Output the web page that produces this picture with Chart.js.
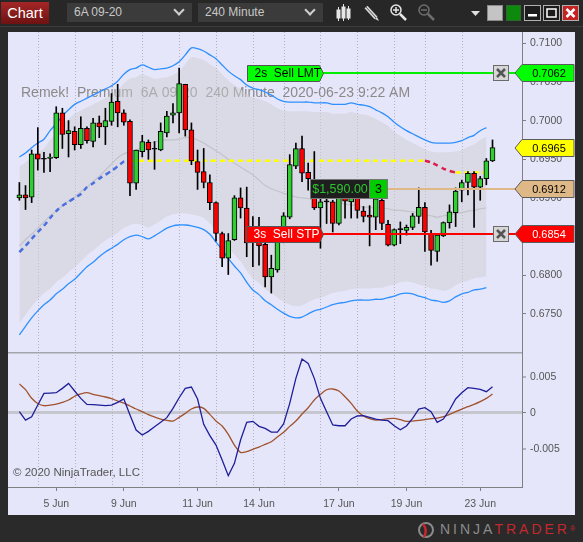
<!DOCTYPE html>
<html>
<head>
<meta charset="utf-8">
<title>Chart - 6A 09-20 240 Minute</title>
<script src="https://cdn.jsdelivr.net/npm/chart.js@4.4.1/dist/chart.umd.min.js"></script>
<style>
html,body{margin:0;padding:0;width:583px;height:542px;overflow:hidden;background:#2a2a2a;font-family:"Liberation Sans",Arial,sans-serif;}
#tb{position:absolute;left:0;top:0;width:583px;height:26px;background:#272727;}
#cbtn{position:absolute;left:1px;top:2px;width:48px;height:22px;background:linear-gradient(#a52626,#6e1212);color:#fff;font-size:14.5px;line-height:22px;text-align:center;}
.dd{position:absolute;top:3px;height:19px;width:125px;background:#3b3b3b;color:#c8c8c8;font-size:12px;line-height:19px;}
.dd span{position:absolute;left:7px;}
.chev{position:absolute;right:9px;top:3px;width:6px;height:6px;border-right:2px solid #cfcfcf;border-bottom:2px solid #cfcfcf;transform:rotate(45deg);}
#tbsvg{position:absolute;left:0;top:0;}
#line2{position:absolute;left:0;top:26px;width:583px;height:1px;background:#3d3d3d;}
#panel{position:absolute;left:8px;top:32px;width:567px;height:483px;background:#e6e6fa;}
#cTop{position:absolute;left:0;top:0;}
#cBot{position:absolute;left:0;top:320px;}
#logo{position:absolute;left:440px;top:521px;font-size:14px;letter-spacing:3px;line-height:16px;white-space:nowrap;}
#logo .a{color:#8a8a8a;} #logo .b{color:#c2282e;}
#logosvg{position:absolute;left:416px;top:520px;}
</style>
</head>
<body>
<div id="tb">
  <div id="cbtn">Chart</div>
  <div class="dd" style="left:67px;"><span>6A 09-20</span><i class="chev"></i></div>
  <div class="dd" style="left:198px;"><span>240 Minute</span><i class="chev"></i></div>
  <svg id="tbsvg" width="583" height="26">
    <g stroke="#e6e6e6" stroke-width="1">
      <line x1="338.5" y1="7" x2="338.5" y2="21"/><rect x="337" y="10" width="3" height="8" fill="#e6e6e6"/>
      <line x1="343.5" y1="4" x2="343.5" y2="21"/><rect x="342" y="7" width="3" height="11" fill="#e6e6e6"/>
      <line x1="348.5" y1="6" x2="348.5" y2="20"/><rect x="347" y="9" width="3" height="9" fill="#e6e6e6"/>
    </g>
    <g>
      <line x1="366" y1="7" x2="376" y2="18" stroke="#d8d8d8" stroke-width="4"/>
      <line x1="366" y1="7" x2="376" y2="18" stroke="#555" stroke-width="1"/>
      <polygon points="375,19 379,21 377,17" fill="#d8d8d8"/>
    </g>
    <g fill="none" stroke="#e6e6e6" stroke-width="1.5">
      <circle cx="396" cy="10" r="5"/><line x1="400" y1="14" x2="406" y2="20" stroke-width="2.5"/>
      <line x1="393" y1="10" x2="399" y2="10"/><line x1="396" y1="7" x2="396" y2="13"/>
    </g>
    <g fill="none" stroke="#6e6e6e" stroke-width="1.5">
      <circle cx="424" cy="10" r="5"/><line x1="428" y1="14" x2="434" y2="20" stroke-width="2.5"/>
      <line x1="421" y1="10" x2="427" y2="10"/>
    </g>
    <polygon points="471,11 480,11 475.5,16" fill="#e0e0e0"/>
    <rect x="487.5" y="5.5" width="15" height="15" fill="#c4c4c4" stroke="#8a8a8a"/>
    <rect x="506.5" y="5.5" width="14" height="15" fill="#0d8a0d" stroke="#2a6a2a"/>
    <rect x="524.5" y="5.5" width="16" height="15" fill="#1c1c1c" stroke="#b0b0b0"/>
    <rect x="528" y="14" width="9" height="2.5" fill="#fff"/>
    <rect x="543.5" y="5.5" width="16" height="15" fill="#1c1c1c" stroke="#b0b0b0"/>
    <rect x="547" y="9" width="9" height="8" fill="none" stroke="#fff" stroke-width="1.5"/>
    <rect x="562.5" y="5.5" width="16" height="15" fill="#c62222" stroke="#b0b0b0"/>
    <path d="M566.5 9 L574.5 17 M574.5 9 L566.5 17" stroke="#fff" stroke-width="2.5"/>
  </svg>
</div>
<div id="line2"></div>
<div id="panel">
  <canvas id="cTop" width="567" height="320"></canvas>
  <canvas id="cBot" width="567" height="163"></canvas>
</div>
<svg id="logosvg" width="22" height="20">
  <circle cx="10" cy="10" r="7" fill="none" stroke="#8a8a8a" stroke-width="2"/>
  <path d="M7 4 Q12 10 8 17" fill="none" stroke="#c2282e" stroke-width="2.5"/>
</svg>
<div id="logo"><span class="a">NINJA</span><span class="b">TRADER</span><span class="b" style="font-size:7px;letter-spacing:0;vertical-align:top;">®</span></div>

<script>
// ---------- data ----------
const open = [0.6900,0.6904,0.6901,0.6957,0.6950,0.6951,0.6952,0.7010,0.6983,0.6986,
0.6969,0.6990,0.6973,0.6997,0.6992,0.6999,0.7025,0.7010,0.6999,0.6919,
0.6960,0.6972,0.6963,0.6962,0.6984,0.7007,0.7010,0.7047,0.6988,0.6947,
0.6934,0.6920,0.6894,0.6854,0.6822,0.6846,0.6900,0.6887,0.6843,0.6846,
0.6840,0.6798,0.6807,0.6844,0.6875,0.6941,0.6964,0.6933,0.6900,0.6887,
0.6895,0.6895,0.6867,0.6900,0.6895,0.6900,0.6883,0.6878,0.6875,0.6897,
0.6866,0.6839,0.6859,0.6858,0.6862,0.6876,0.6888,0.6854,0.6831,0.6851,
0.6868,0.6881,0.6910,0.6920,0.6932,0.6914,0.6925,0.6948];
const high = [0.6920,0.6916,0.6962,0.6991,0.6959,0.6957,0.7018,0.7016,0.7000,0.6992,
0.7005,0.6992,0.7003,0.7006,0.7016,0.7035,0.7047,0.7014,0.7001,0.6962,
0.6981,0.6975,0.6973,0.6997,0.7012,0.7022,0.7068,0.7047,0.6997,0.6962,
0.6964,0.6930,0.6895,0.6856,0.6854,0.6903,0.6913,0.6914,0.6876,0.6875,
0.6846,0.6826,0.6848,0.6881,0.6956,0.6971,0.6980,0.6945,0.6960,0.6904,
0.6900,0.6897,0.6906,0.6906,0.6904,0.6902,0.6889,0.6890,0.6904,0.6902,
0.6871,0.6860,0.6869,0.6865,0.6880,0.6913,0.6894,0.6858,0.6853,0.6869,
0.6891,0.6913,0.6923,0.6934,0.6934,0.6928,0.6951,0.6975];
const low = [0.6897,0.6885,0.6894,0.6936,0.6933,0.6934,0.6951,0.6964,0.6953,0.6962,
0.6964,0.6971,0.6966,0.6978,0.6969,0.6994,0.6992,0.6994,0.6903,0.6911,
0.6953,0.6950,0.6937,0.6961,0.6979,0.6997,0.6984,0.6980,0.6943,0.6911,
0.6913,0.6885,0.6844,0.6811,0.6801,0.6845,0.6874,0.6824,0.6811,0.6813,
0.6785,0.6777,0.6804,0.6842,0.6873,0.6938,0.6921,0.6910,0.6885,0.6835,
0.6867,0.6856,0.6865,0.6874,0.6874,0.6874,0.6869,0.6838,0.6859,0.6859,
0.6838,0.6838,0.6841,0.6852,0.6859,0.6867,0.6831,0.6813,0.6818,0.6850,
0.6861,0.6863,0.6895,0.6904,0.6862,0.6897,0.6917,0.6947];
const close = [0.6904,0.6900,0.6957,0.6950,0.6950,0.6953,0.7010,0.6982,0.6987,0.6969,
0.6990,0.6974,0.6997,0.6992,0.7000,0.7024,0.7010,0.6998,0.6919,0.6962,
0.6973,0.6962,0.6963,0.6986,0.7006,0.7010,0.7048,0.6988,0.6948,0.6933,
0.6920,0.6894,0.6854,0.6822,0.6845,0.6900,0.6887,0.6842,0.6846,0.6838,
0.6798,0.6809,0.6844,0.6877,0.6943,0.6964,0.6932,0.6925,0.6887,0.6895,
0.6895,0.6867,0.6900,0.6896,0.6900,0.6884,0.6876,0.6875,0.6899,0.6867,
0.6839,0.6859,0.6859,0.6862,0.6877,0.6888,0.6856,0.6832,0.6852,0.6868,
0.6882,0.6909,0.6920,0.6932,0.6914,0.6925,0.6948,0.6965];

const upperBand = [0.6953,0.6958,0.6965,0.6971,0.6976,0.6987,0.6996,0.7006,0.7014,0.7021,
0.7025,0.7029,0.7033,0.7037,0.7041,0.7045,0.7051,0.7060,0.7066,0.7068,
0.7072,0.7069,0.7066,0.7067,0.7068,0.7071,0.7076,0.7085,0.7094,0.7093,
0.7090,0.7085,0.7080,0.7072,0.7064,0.7058,0.7053,0.7046,0.7042,0.7040,
0.7037,0.7033,0.7028,0.7025,0.7024,0.7024,0.7024,0.7024,0.7023,0.7023,
0.7023,0.7021,0.7021,0.7021,0.7023,0.7021,0.7020,0.7018,0.7014,0.7010,
0.7005,0.6998,0.6992,0.6987,0.6983,0.6979,0.6975,0.6972,0.6971,0.6971,
0.6971,0.6972,0.6974,0.6978,0.6981,0.6987,0.6991];
const lowerBand = [0.6723,0.6734,0.6745,0.6754,0.6762,0.6768,0.6776,0.6782,0.6789,0.6795,
0.6803,0.6811,0.6817,0.6824,0.6830,0.6835,0.6840,0.6846,0.6850,0.6852,
0.6850,0.6847,0.6851,0.6856,0.6861,0.6864,0.6865,0.6865,0.6864,0.6862,
0.6859,0.6853,0.6843,0.6833,0.6822,0.6812,0.6803,0.6791,0.6781,0.6775,
0.6767,0.6762,0.6756,0.6751,0.6747,0.6745,0.6746,0.6750,0.6754,0.6756,
0.6759,0.6762,0.6764,0.6765,0.6767,0.6768,0.6768,0.6768,0.6769,0.6769,
0.6771,0.6773,0.6776,0.6777,0.6776,0.6773,0.6771,0.6768,0.6767,0.6765,
0.6767,0.6772,0.6776,0.6778,0.6781,0.6782,0.6784];
const bandFillTop = [0.6941,0.6946,0.6953,0.6959,0.6964,0.6975,0.6984,0.6994,0.7002,0.7009,
0.7013,0.7017,0.7021,0.7025,0.7029,0.7033,0.7039,0.7048,0.7054,0.7056,
0.7060,0.7057,0.7054,0.7055,0.7056,0.7059,0.7064,0.7073,0.7082,0.7081,
0.7078,0.7073,0.7068,0.7060,0.7052,0.7046,0.7041,0.7034,0.7030,0.7028,
0.7025,0.7021,0.7016,0.7013,0.7012,0.7012,0.7012,0.7012,0.7011,0.7011,
0.7011,0.7009,0.7009,0.7009,0.7011,0.7009,0.7008,0.7006,0.7002,0.6998,
0.6993,0.6986,0.6980,0.6975,0.6971,0.6967,0.6963,0.6960,0.6959,0.6959,
0.6959,0.6960,0.6962,0.6966,0.6969,0.6975,0.6979];
const bandFillBottom = [0.6738,0.6749,0.6760,0.6769,0.6777,0.6783,0.6791,0.6797,0.6804,0.6810,
0.6818,0.6826,0.6832,0.6839,0.6845,0.6850,0.6855,0.6861,0.6865,0.6867,
0.6865,0.6862,0.6866,0.6871,0.6876,0.6879,0.6880,0.6880,0.6879,0.6877,
0.6874,0.6867,0.6858,0.6848,0.6837,0.6827,0.6818,0.6806,0.6796,0.6790,
0.6782,0.6777,0.6771,0.6766,0.6762,0.6760,0.6761,0.6765,0.6769,0.6771,
0.6774,0.6777,0.6779,0.6780,0.6782,0.6783,0.6783,0.6783,0.6784,0.6784,
0.6786,0.6788,0.6791,0.6792,0.6791,0.6788,0.6786,0.6783,0.6782,0.6780,
0.6782,0.6787,0.6791,0.6793,0.6796,0.6797,0.6799];
const midLine = [0.6838,0.6846,0.6853,0.6861,0.6869,0.6877,0.6883,0.6890,0.6896,0.6901,
0.6908,0.6914,0.6921,0.6928,0.6936,0.6944,0.6952,0.6957,0.6960,0.6962,
0.6966,0.6971,0.6972,0.6974,0.6975,0.6975,0.6976,0.6978,0.6978,0.6975,
0.6971,0.6966,0.6961,0.6956,0.6950,0.6945,0.6940,0.6935,0.6930,0.6923,
0.6916,0.6912,0.6909,0.6906,0.6904,0.6901,0.6900,0.6899,0.6897,0.6896,
0.6895,0.6894,0.6894,0.6892,0.6891,0.6890,0.6888,0.6888,0.6887,0.6887,
0.6886,0.6884,0.6884,0.6883,0.6882,0.6881,0.6878,0.6877,0.6875,0.6877,
0.6878,0.6880,0.6881,0.6883,0.6884,0.6886,0.6887];
const trendLine = [0.6830,0.6838,0.6847,0.6856,0.6864,0.6874,0.6883,0.6890,0.6895,0.6900,
0.6905,0.6914,0.6919,0.6925,0.6930,0.6935,0.6941,0.6947,0.6948,0.6948,
0.6948,0.6948,0.6948,0.6948,0.6948,0.6948,0.6948,0.6948,0.6948,0.6948,
0.6948,0.6948,0.6948,0.6948,0.6948,0.6948,0.6948,0.6948,0.6948,0.6948,
0.6948,0.6948,0.6948,0.6948,0.6948,0.6948,0.6948,0.6948,0.6948,0.6948,
0.6948,0.6948,0.6948,0.6948,0.6948,0.6948,0.6948,0.6948,0.6948,0.6948,
0.6948,0.6948,0.6948,0.6948,0.6948,0.6948,0.6948,0.6946,0.6942,0.6938,
0.6935,0.6933,0.6933,0.6933,0.6933,0.6933,0.6933];

const oscFast = [0.00014,-0.00102,-0.00056,0.00106,0.00269,0.00273,0.00278,0.00338,0.00407,0.00301,
0.00199,0.00116,0.00111,0.00106,0.00097,0.00106,0.00144,0.00190,-0.00032,-0.00241,
-0.00310,-0.00259,-0.00194,-0.00134,-0.00069,0.00060,0.00208,0.00338,0.00356,0.00190,
-0.00162,-0.00319,-0.00449,-0.00657,-0.00875,-0.00704,-0.00380,-0.00134,-0.00120,-0.00190,
-0.00218,-0.00269,-0.00269,-0.00157,0.00130,0.00477,0.00745,0.00685,0.00477,0.00199,
0.00014,-0.00171,-0.00181,-0.00181,-0.00088,-0.00046,-0.00042,-0.00065,-0.00088,-0.00102,
-0.00111,-0.00181,-0.00236,-0.00185,-0.00079,0.00051,0.00069,0.00014,-0.00134,-0.00088,
0.00037,0.00190,0.00278,0.00347,0.00338,0.00324,0.00292,0.00361];
const oscSlow = [0.00400,0.00320,0.00200,0.00128,0.00097,0.00106,0.00120,0.00144,0.00176,0.00229,
0.00261,0.00278,0.00255,0.00236,0.00218,0.00194,0.00162,0.00134,0.00093,0.00051,
0.00014,-0.00028,-0.00060,-0.00088,-0.00106,-0.00116,-0.00065,-0.00009,0.00051,0.00079,
0.00060,-0.00023,-0.00116,-0.00185,-0.00301,-0.00449,-0.00551,-0.00542,-0.00509,-0.00477,
-0.00440,-0.00403,-0.00338,-0.00273,-0.00190,-0.00116,-0.00019,0.00069,0.00176,0.00255,
0.00319,0.00329,0.00301,0.00222,0.00130,0.00023,-0.00046,-0.00083,-0.00102,-0.00097,
-0.00083,-0.00079,-0.00097,-0.00120,-0.00116,-0.00106,-0.00097,-0.00083,-0.00074,-0.00056,
-0.00023,0.00014,0.00051,0.00083,0.00116,0.00153,0.00199,0.00259];

const priceTicks = [0.6750,0.6800,0.6850,0.6900,0.6950,0.7000,0.7050,0.7100];
const oscTicks = [-0.005,0,0.005];
const dateLabels = ['5 Jun','9 Jun','11 Jun','14 Jun','17 Jun','19 Jun','23 Jun'];
const dateIdx = [6,17,29,39,52,63,75];
const dayBreaks = [3,9,15,20,26,32,38,43,49,55,61,66,72];

const limitPrice = 0.7062, stopPrice = 0.6854, positionPrice = 0.6912, lastPrice = close[close.length-1];
const limitLabel = '2s  Sell LMT', stopLabel = '3s  Sell STP';
const pnlLabel = '$1,590.00', qtyLabel = '3';
const titleText = 'Remek!  Premium  6A 09-20  240 Minute  2020-06-23 9:22 AM';
const copyright = '\u00a9 2020 NinjaTrader, LLC';

// ---------- axis ranges ----------
const XMIN = -1.85, XMAX = 81.8;
const PMIN = 0.67008, PMAX = 0.71146;
const OMIN = -0.01032, OMAX = 0.00843;

// ---------- helpers ----------
const FONT = '"Liberation Sans", Arial, sans-serif';
Chart.defaults.font.family = FONT;
const pts = a => a.map((v, i) => ({x: i, y: v}));
const UP = '#32cd32', DOWN = '#ff0000';

const dayGrid = {
  id: 'dayGrid',
  beforeDatasetsDraw(chart) {
    const {ctx, chartArea: a, scales: {x}} = chart;
    ctx.save();
    ctx.strokeStyle = '#b2b2c4'; ctx.lineWidth = 1; ctx.setLineDash([1, 2]);
    dayBreaks.forEach(i => {
      const px = Math.round(x.getPixelForValue(i)) + 0.5;
      ctx.beginPath(); ctx.moveTo(px, a.top); ctx.lineTo(px, a.bottom); ctx.stroke();
    });
    ctx.restore();
  }
};

const titlePlugin = {
  id: 'titleText',
  beforeDatasetsDraw(chart) {
    const {ctx, chartArea: a} = chart;
    ctx.save();
    ctx.font = '14px ' + FONT;
    ctx.fillStyle = '#8a8a8a';
    ctx.textBaseline = 'alphabetic'; ctx.textAlign = 'left';
    ctx.fillText(titleText, a.left + 13, a.top + 64.5);
    ctx.restore();
  }
};

function badge(ctx, a, W, yPix, text, bg, fg) {
  const h = 17, tip = 7, x0 = a.right, x1 = W - 1;
  const t = Math.round(yPix - h / 2) + 0.5, b = t + h, m = (t + b) / 2;
  ctx.beginPath();
  ctx.moveTo(x0 - tip, m); ctx.lineTo(x0, t); ctx.lineTo(x1, t); ctx.lineTo(x1, b); ctx.lineTo(x0, b); ctx.closePath();
  ctx.fillStyle = bg; ctx.fill();
  ctx.strokeStyle = '#5a5a5a'; ctx.lineWidth = 1; ctx.stroke();
  ctx.fillStyle = fg; ctx.font = '11px ' + FONT; ctx.textAlign = 'center'; ctx.textBaseline = 'middle';
  ctx.fillText(text, (x0 + x1) / 2 + 1, m + 0.5);
}
function orderTag(ctx, x0, x1, yPix, text, bg, fg) {
  const h = 16, tip = 4;
  const t = Math.round(yPix - h / 2) + 0.5, b = t + h, m = (t + b) / 2;
  ctx.beginPath();
  ctx.moveTo(x0, t); ctx.lineTo(x1, t); ctx.lineTo(x1 + tip, m); ctx.lineTo(x1, b); ctx.lineTo(x0, b); ctx.closePath();
  ctx.fillStyle = bg; ctx.fill();
  ctx.strokeStyle = '#555'; ctx.lineWidth = 1; ctx.stroke();
  ctx.fillStyle = fg; ctx.font = '12px ' + FONT; ctx.textAlign = 'left'; ctx.textBaseline = 'middle';
  ctx.fillText(text, x0 + 7, m + 0.5);
}
function xBox(ctx, x, yPix) {
  const s = 15, t = Math.round(yPix - s / 2) + 0.5;
  ctx.fillStyle = '#d6d6d6'; ctx.fillRect(x, t, s, s);
  ctx.strokeStyle = '#6a6a6a'; ctx.lineWidth = 1; ctx.strokeRect(x, t, s, s);
  ctx.strokeStyle = '#555'; ctx.lineWidth = 2.5;
  ctx.beginPath();
  ctx.moveTo(x + 3.5, t + 3.5); ctx.lineTo(x + s - 3.5, t + s - 3.5);
  ctx.moveTo(x + s - 3.5, t + 3.5); ctx.lineTo(x + 3.5, t + s - 3.5);
  ctx.stroke();
}
function hline(ctx, x0, x1, yPix, color) {
  const yy = Math.round(yPix);
  ctx.strokeStyle = color; ctx.lineWidth = 2;
  ctx.beginPath(); ctx.moveTo(x0, yy); ctx.lineTo(x1, yy); ctx.stroke();
}

const ordersPlugin = {
  id: 'orders',
  afterDraw(chart) {
    const {ctx, chartArea: a, scales: {y}} = chart;
    const W = chart.width;
    const yL = y.getPixelForValue(limitPrice), yS = y.getPixelForValue(stopPrice);
    const yP = y.getPixelForValue(positionPrice), yLast = y.getPixelForValue(lastPrice);
    ctx.save();
    hline(ctx, a.left + 315, a.right, yL, '#00ee00');
    hline(ctx, a.left + 315, a.right, yS, '#ff0000');
    hline(ctx, a.left + 379, a.right, yP, '#deb887');
    orderTag(ctx, a.left + 239.5, a.left + 311.5, yL, limitLabel, '#00ff00', '#000');
    orderTag(ctx, a.left + 238.5, a.left + 311.5, yS, stopLabel, '#ff0000', '#fff');
    // position tag
    const h = 19, t = Math.round(yP - h / 2) + 0.5;
    ctx.fillStyle = '#1e1e1e'; ctx.fillRect(a.left + 302.5, t, 59, h);
    ctx.strokeStyle = '#777'; ctx.lineWidth = 1; ctx.strokeRect(a.left + 302.5, t, 59, h);
    ctx.fillStyle = '#00cc00'; ctx.fillRect(a.left + 361.5, t, 18, h);
    ctx.strokeRect(a.left + 361.5, t, 18, h);
    ctx.font = '12.5px ' + FONT; ctx.textAlign = 'center'; ctx.textBaseline = 'middle';
    ctx.fillStyle = '#2fc42f'; ctx.fillText(pnlLabel, a.left + 332, t + h / 2 + 0.5);
    ctx.fillStyle = '#000'; ctx.fillText(qtyLabel, a.left + 370.5, t + h / 2 + 0.5);
    xBox(ctx, a.right - 28.5, yL);
    xBox(ctx, a.right - 28.5, yS);
    badge(ctx, a, W, yLast, lastPrice.toFixed(4), '#ffff00', '#000');
    badge(ctx, a, W, yP, positionPrice.toFixed(4), '#deb887', '#000');
    badge(ctx, a, W, yL, limitPrice.toFixed(4), '#00ff00', '#000');
    badge(ctx, a, W, yS, stopPrice.toFixed(4), '#ff0000', '#fff');
    ctx.restore();
  }
};

const lowerDecor = {
  id: 'lowerDecor',
  afterDatasetsDraw(chart) {
    const {ctx, chartArea: a} = chart;
    ctx.save();
    ctx.strokeStyle = '#a4a4ac'; ctx.lineWidth = 1.5;
    ctx.beginPath(); ctx.moveTo(0, a.top + 0.75); ctx.lineTo(a.right, a.top + 0.75); ctx.stroke();
    ctx.font = '11.5px ' + FONT; ctx.fillStyle = '#555'; ctx.textAlign = 'left'; ctx.textBaseline = 'middle';
    ctx.fillText(copyright, a.left + 5, a.top + 121);
    ctx.restore();
  }
};

// ---------- top chart (price) ----------
const idx = open.map((_, i) => i);
new Chart(document.getElementById('cTop'), {
  type: 'bar',
  data: {
    datasets: [
      { label: 'body', type: 'bar', order: 0, grouped: false,
        data: idx.map(i => ({x: i, y: [open[i], close[i]]})),
        backgroundColor: idx.map(i => close[i] > open[i] ? UP : (close[i] < open[i] ? DOWN : '#000')),
        borderColor: '#000', borderWidth: 1, borderSkipped: false, barThickness: 5, minBarLength: 1 },
      { label: 'wick', type: 'bar', order: 1, grouped: false,
        data: idx.map(i => ({x: i, y: [low[i], high[i]]})),
        backgroundColor: '#000', borderWidth: 0, barThickness: 1 },
      { label: 'trend', type: 'line', order: 2, data: pts(trendLine),
        borderWidth: 2.5, borderDash: [5, 4], pointRadius: 0, tension: 0.2,
        segment: { borderColor: c => c.p1.parsed.y > c.p0.parsed.y ? '#4a6fe0' : (c.p1.parsed.y < c.p0.parsed.y ? '#dc1e4a' : '#ffff00') } },
      { label: 'upper', type: 'line', order: 3, data: pts(upperBand), borderColor: '#2e90ff', borderWidth: 1.3, pointRadius: 0, tension: 0.3 },
      { label: 'lower', type: 'line', order: 3, data: pts(lowerBand), borderColor: '#2e90ff', borderWidth: 1.3, pointRadius: 0, tension: 0.3 },
      { label: 'mid', type: 'line', order: 4, data: pts(midLine), borderColor: 'rgba(185,185,190,0.7)', borderWidth: 1.2, pointRadius: 0, tension: 0.3 },
      { label: 'fillTop', type: 'line', order: 5, data: pts(bandFillTop), borderWidth: 0, pointRadius: 0, tension: 0.3,
        fill: '+1', backgroundColor: 'rgba(205,205,210,0.5)' },
      { label: 'fillBottom', type: 'line', order: 6, data: pts(bandFillBottom), borderWidth: 0, pointRadius: 0, tension: 0.3 }
    ]
  },
  options: {
    responsive: false, animation: false, events: [],
    layout: { padding: 0 },
    plugins: { legend: { display: false }, tooltip: { enabled: false } },
    scales: {
      x: { type: 'linear', min: XMIN, max: XMAX, offset: false, display: false, bounds: 'data' },
      y: { position: 'right', min: PMIN, max: PMAX, bounds: 'data',
        afterBuildTicks: s => { s.ticks = priceTicks.map(v => ({value: v})); },
        afterFit: s => { s.width = 53; s.paddingTop = 0; s.paddingBottom = 0; },
        ticks: { callback: v => Number(v).toFixed(4), color: '#555', font: { size: 10.5 }, padding: 4 },
        grid: { drawOnChartArea: false, drawTicks: true, tickLength: 4, tickColor: '#808080' },
        border: { display: true, color: '#808080' } }
    }
  },
  plugins: [dayGrid, titlePlugin, ordersPlugin]
});

// ---------- bottom chart (oscillator) ----------
new Chart(document.getElementById('cBot'), {
  type: 'line',
  data: {
    datasets: [
      { label: 'fast', data: pts(oscFast), borderColor: '#1e1e9a', borderWidth: 1.3, pointRadius: 0, tension: 0, order: 0 },
      { label: 'slow', data: pts(oscSlow), borderColor: '#a0522d', borderWidth: 1.3, pointRadius: 0, tension: 0.3, order: 1 }
    ]
  },
  options: {
    responsive: false, animation: false, events: [],
    layout: { padding: 0 },
    plugins: { legend: { display: false }, tooltip: { enabled: false } },
    scales: {
      x: { type: 'linear', min: XMIN, max: XMAX, offset: false, bounds: 'data',
        afterBuildTicks: s => { s.ticks = dateIdx.map(v => ({value: v})); },
        afterFit: s => { s.height = 28; s.paddingLeft = 0; s.paddingRight = 0; },
        ticks: { autoSkip: false, maxRotation: 0, color: '#555', font: { size: 10.5 }, padding: 7,
          callback: v => dateLabels[dateIdx.indexOf(v)] },
        grid: { drawOnChartArea: false, drawTicks: true, tickLength: 4, tickColor: '#808080' },
        border: { display: true, color: '#808080' } },
      y: { position: 'right', min: OMIN, max: OMAX, bounds: 'data',
        afterBuildTicks: s => { s.ticks = oscTicks.map(v => ({value: v})); },
        afterFit: s => { s.width = 53; s.paddingTop = 0; s.paddingBottom = 0; },
        ticks: { callback: v => (v === 0 ? '0' : Number(v).toFixed(3)), color: '#555', font: { size: 10.5 }, padding: 4 },
        grid: { drawOnChartArea: true, drawTicks: true, tickLength: 4, tickColor: '#808080', tickWidth: 1,
          color: c => (c.tick && c.tick.value === 0 ? '#c6c6ce' : 'rgba(0,0,0,0)'),
          lineWidth: c => (c.tick && c.tick.value === 0 ? 3 : 0) },
        border: { display: true, color: '#808080' } }
    }
  },
  plugins: [dayGrid, lowerDecor]
});
</script>
</body>
</html>
